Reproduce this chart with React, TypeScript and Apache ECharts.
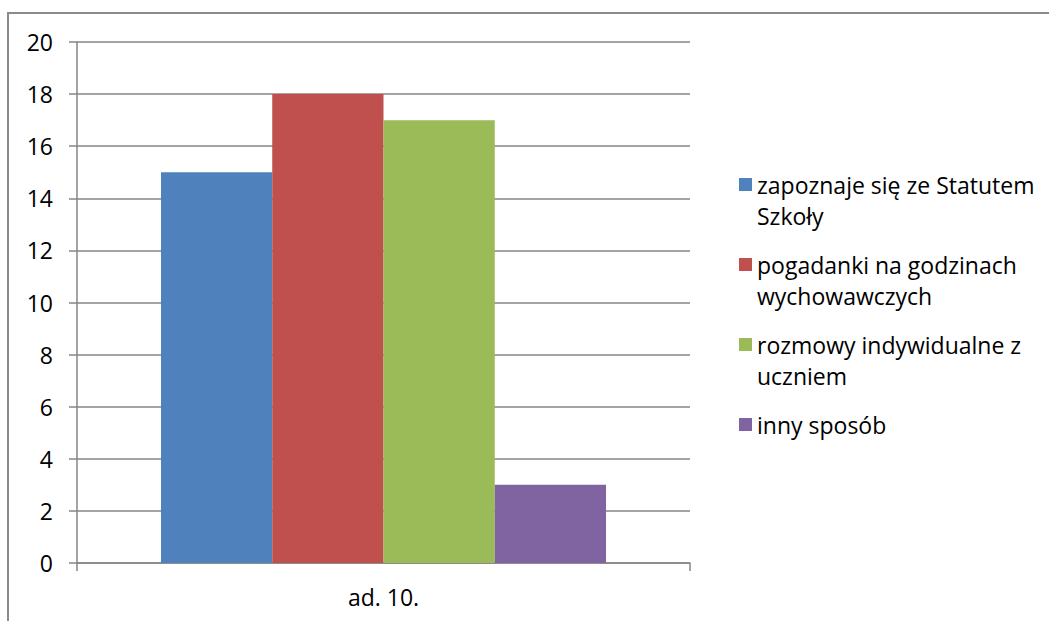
import React, { useEffect, useRef } from "react";
import * as echarts from "echarts";

const categories = ["ad. 10."];
const seriesNames = [
  "zapoznaje się ze Statutem Szkoły",
  "pogadanki na godzinach wychowawczych",
  "rozmowy indywidualne z uczniem",
  "inny sposób",
];
const legendLines = [
  ["zapoznaje się ze Statutem", "Szkoły"],
  ["pogadanki na godzinach", "wychowawczych"],
  ["rozmowy indywidualne z", "uczniem"],
  ["inny sposób", ""],
];
const seriesValues = [[15], [18], [17], [3]];
const colors = ["#4f81bd", "#c0504d", "#9bbb59", "#8064a2"];
const yMin = 0;
const yMax = 20;
const yInterval = 2;

const FONT = "'Open Sans', sans-serif";
const FS = 23;
const LH = 31;

export default function App() {
  const ref = useRef<HTMLDivElement>(null);
  useEffect(() => {
    if (!ref.current) return;
    const chart = echarts.init(ref.current, null, { renderer: "svg" });
    const axisColor = "#868686";
    chart.setOption({
      animation: false,
      backgroundColor: "#ffffff",
      graphic: [
        {
          type: "rect",
          shape: { x: 8, y: 13, width: 1200, height: 800 },
          style: { fill: "none", stroke: "#8a8a8a", lineWidth: 2 },
          silent: true,
        },
      ],
      grid: { left: 77, right: 359, top: 42, bottom: 58, containLabel: false },
      legend: {
        orient: "vertical",
        left: 734,
        top: 133,
        itemWidth: 13,
        itemHeight: 13,
        itemGap: 80 - 3 * LH,
        icon: "rect",
        selectedMode: false,
        data: seriesNames,
        formatter: (name: string) => "\n" + legendLines[seriesNames.indexOf(name)].join("\n"),
        textStyle: { fontFamily: FONT, fontSize: FS, color: "#000", lineHeight: LH },
      },
      xAxis: {
        type: "category",
        data: categories,
        axisLine: { show: true, lineStyle: { color: axisColor, width: 1.5 } },
        axisTick: { show: true, length: 8, lineStyle: { color: axisColor, width: 1.5 } },
        axisLabel: { margin: 22, fontFamily: FONT, fontSize: FS, color: "#000" },
      },
      yAxis: {
        type: "value",
        min: yMin,
        max: yMax,
        interval: yInterval,
        axisLine: { show: true, lineStyle: { color: axisColor, width: 1.5 } },
        axisTick: { show: true, length: 8, lineStyle: { color: axisColor, width: 1.5 } },
        splitLine: { show: true, lineStyle: { color: axisColor, width: 1.5 } },
        axisLabel: { margin: 24, fontFamily: FONT, fontSize: FS, color: "#000" },
      },
      series: seriesNames.map((n, i) => ({
        name: n,
        type: "bar",
        data: seriesValues[i],
        barGap: "0%",
        barCategoryGap: "27.4%",
        itemStyle: { color: colors[i] },
      })),
    });
    return () => chart.dispose();
  }, []);
  return <div ref={ref} style={{ width: 1049, height: 621, position: "absolute", left: 0, top: 0 }} />;
}
